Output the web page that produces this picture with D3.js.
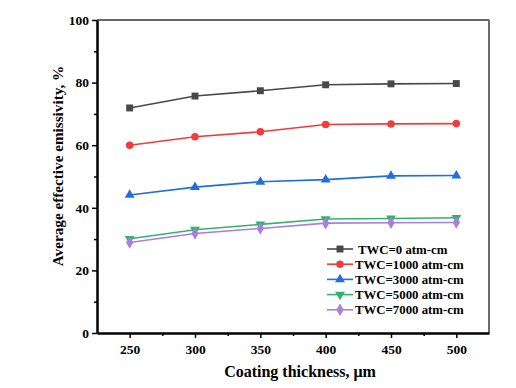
<!DOCTYPE html>
<html>
<head>
<meta charset="utf-8">
<script src="https://cdn.jsdelivr.net/npm/d3@7"></script>
<style>
  body { margin: 0; background: #fff; }
  text { font-family: "Liberation Serif", "Times New Roman", serif; font-weight: bold; }
</style>
</head>
<body>
<div id="chart"></div>
<script>
var svgWidth = 516;
var svgHeight = 388;

var margin = { top: 20, right: 27, bottom: 55, left: 97 };
var width = svgWidth - margin.left - margin.right;
var height = svgHeight - margin.top - margin.bottom;

// data
var thickness = [250, 300, 350, 400, 450, 500];
var twc0 = [71.9, 75.7, 77.4, 79.3, 79.6, 79.7];
var twc1000 = [60.0, 62.7, 64.3, 66.6, 66.8, 66.9];
var twc3000 = [44.1, 46.6, 48.3, 49.0, 50.2, 50.3];
var twc5000 = [30.1, 33.0, 34.7, 36.4, 36.6, 36.8];
var twc7000 = [28.9, 31.8, 33.4, 35.1, 35.2, 35.3];
var seriesNames = ["TWC=0 atm-cm", "TWC=1000 atm-cm", "TWC=3000 atm-cm", "TWC=5000 atm-cm", "TWC=7000 atm-cm"];
var xTicks = [250, 300, 350, 400, 450, 500];
var yTicks = [0, 20, 40, 60, 80, 100];

var series = [
  { name: seriesNames[0], values: twc0, color: "#484848", symbol: d3.symbolSquare, size: 48, rot: 0 },
  { name: seriesNames[1], values: twc1000, color: "#f03c3c", symbol: d3.symbolCircle, size: 45, rot: 0 },
  { name: seriesNames[2], values: twc3000, color: "#1f6fdc", symbol: d3.symbolTriangle, size: 42, rot: 0 },
  { name: seriesNames[3], values: twc5000, color: "#33b36a", symbol: d3.symbolTriangle, size: 42, rot: 180 },
  { name: seriesNames[4], values: twc7000, color: "#a87ee0", symbol: d3.symbolDiamond, size: 45, rot: 0 }
];

var svg = d3.select("#chart")
    .append("svg")
    .attr("width", svgWidth)
    .attr("height", svgHeight);

var chartGroup = svg.append("g")
    .attr("transform", `translate(${margin.left}, ${margin.top})`);

var xScale = d3.scaleLinear().domain([225, 525]).range([0, width]);
var yScale = d3.scaleLinear().domain([0, 100]).range([height, 0]);

// frame: top and right in gray
chartGroup.append("line")
    .attr("x1", 0).attr("x2", width).attr("y1", 0).attr("y2", 0)
    .attr("stroke", "#333").attr("stroke-width", 1.5);
chartGroup.append("line")
    .attr("x1", width).attr("x2", width).attr("y1", 0).attr("y2", height)
    .attr("stroke", "#6a6a6a").attr("stroke-width", 2);

// minor ticks
var xMinor = d3.range(275, 525, 50);
var yMinor = d3.range(10, 100, 20);
chartGroup.append("g")
    .attr("transform", `translate(0, ${height})`)
    .call(d3.axisBottom(xScale).tickValues(xMinor).tickSize(3).tickFormat(""))
    .call(g => g.select(".domain").remove())
    .selectAll("line").attr("stroke-width", 1.5);
chartGroup.append("g")
    .call(d3.axisLeft(yScale).tickValues(yMinor).tickSize(3).tickFormat(""))
    .call(g => g.select(".domain").remove())
    .selectAll("line").attr("stroke-width", 1.5);

// major axes
var bottomAxis = d3.axisBottom(xScale).tickValues(xTicks).tickSize(5).tickSizeOuter(0).tickPadding(6);
var leftAxis = d3.axisLeft(yScale).tickValues(yTicks).tickSize(5).tickSizeOuter(0).tickPadding(3);

var xg = chartGroup.append("g")
    .attr("transform", `translate(0, ${height})`)
    .call(bottomAxis);
var yg = chartGroup.append("g")
    .call(leftAxis);

[xg, yg].forEach(function(g) {
  g.select(".domain").attr("stroke-width", 2.5);
  g.selectAll(".tick line").attr("stroke-width", 1.5);
  g.selectAll(".tick text")
    .attr("font-family", "Liberation Serif, serif")
    .attr("font-weight", "bold")
    .attr("font-size", 13.5)
    .attr("fill", "#000");
});

// lines and markers
var line = d3.line()
    .x((d, i) => xScale(thickness[i]))
    .y(d => yScale(d));

series.forEach(function(s) {
  chartGroup.append("path")
    .datum(s.values)
    .attr("fill", "none")
    .attr("stroke", s.color)
    .attr("stroke-width", 1.6)
    .attr("d", line);

  chartGroup.selectAll(null)
    .data(s.values)
    .enter()
    .append("path")
    .attr("d", d3.symbol().type(s.symbol).size(s.size))
    .attr("transform", (d, i) => `translate(${xScale(thickness[i])}, ${yScale(d)}) rotate(${s.rot})`)
    .attr("fill", s.color);
});

// legend
var legend = svg.append("g").attr("transform", "translate(327, 249)");
series.forEach(function(s, i) {
  var row = legend.append("g").attr("transform", `translate(0, ${i * 15.2})`);
  row.append("line")
    .attr("x1", 0).attr("x2", 26).attr("y1", 0).attr("y2", 0)
    .attr("stroke", s.color).attr("stroke-width", 1.6);
  row.append("path")
    .attr("d", d3.symbol().type(s.symbol).size(s.size))
    .attr("transform", `translate(13, 0) rotate(${s.rot})`)
    .attr("fill", s.color);
  row.append("text")
    .attr("x", i === 0 ? 31 : 28)
    .attr("y", 4.5)
    .attr("font-size", 12.8)
    .text(s.name);
});

// axis titles
svg.append("text")
    .attr("transform", "rotate(-90)")
    .attr("x", -166)
    .attr("y", 63)
    .attr("text-anchor", "middle")
    .attr("font-size", 15.2)
    .text("Average effective emissivity, %");

svg.append("text")
    .attr("x", 300)
    .attr("y", 377)
    .attr("text-anchor", "middle")
    .attr("font-size", 16)
    .text("Coating thickness, μm");
</script>
</body>
</html>
